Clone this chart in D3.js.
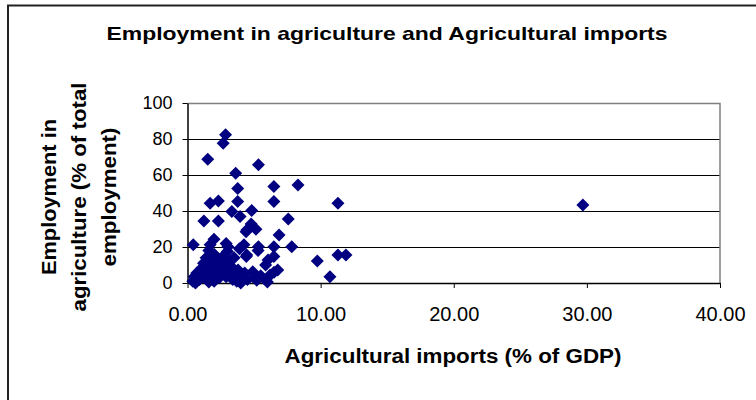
<!DOCTYPE html>
<html>
<head>
<meta charset="utf-8">
<script src="https://cdn.jsdelivr.net/npm/d3@7"></script>
<style>
  html, body { margin: 0; padding: 0; background: #ffffff; }
  #chart { width: 756px; height: 400px; }
</style>
</head>
<body>
<div id="chart"></div>
<script>
// ---------- data ----------
const importsPct = [
    2.86, 2.68, 1.52, 3.62, 5.33, 6.49, 8.30, 3.77, 6.49, 3.77,
    1.70, 2.32, 11.30, 29.70, 3.33, 4.82, 1.23, 2.32, 3.95, 7.57,
    4.46, 5.14, 4.78, 6.88, 0.43, 1.70, 1.99, 3.04, 4.24, 5.33,
    6.49, 7.83, 4.42, 6.49, 9.75, 11.30, 11.90, 10.70, 5.87, 6.78,
    4.40, 2.90, 1.60, 2.00, 3.00, 3.90, 4.45, 6.05, 5.30, 0.40,
    0.50, 0.70, 0.90, 1.00, 1.20, 1.30, 1.40, 1.50, 1.60, 1.70,
    1.80, 1.90, 2.10, 2.20, 2.30, 2.40, 2.50, 2.60, 2.70, 2.80,
    2.90, 3.00, 3.10, 3.20, 3.30, 3.40, 3.60, 3.70, 3.80, 4.00,
    4.10, 4.30, 4.50, 4.90, 5.00, 5.20, 5.50, 5.90, 6.20, 6.00,
    6.50, 1.10, 2.00, 0.60, 3.50
];
const employmentPct = [
    82.4, 77.7, 68.8, 61.0, 65.7, 53.6, 54.4, 52.5, 45.3, 45.3,
    44.3, 45.6, 44.3, 43.4, 39.7, 40.3, 34.5, 34.5, 36.9, 35.6,
    29.5, 29.9, 32.8, 26.7, 21.2, 21.2, 24.3, 20.2, 21.2, 20.2,
    20.2, 20.2, 14.7, 14.7, 12.2, 15.6, 15.6, 3.5, 10.0, 7.2,
    28.5, 22.0, 18.0, 16.0, 17.5, 19.0, 15.6, 12.8, 18.0, 1.0,
    3.5, 5.5, 2.0, 6.0, 11.0, 3.0, 14.0, 8.0, 0.5, 12.0,
    5.0, 2.0, 10.0, 7.0, 13.5, 3.0, 9.0, 5.5, 15.0, 11.0,
    3.5, 7.5, 12.5, 5.0, 9.0, 2.0, 6.0, 1.0, 7.2, 0.0,
    4.0, 5.5, 2.0, 6.3, 3.0, 1.5, 4.0, 2.0, 4.5, 0.5,
    6.0, 8.5, 1.0, 0.0, 14.0
];
const xTicks = [0, 10, 20, 30, 40];
const yTicks = [0, 20, 40, 60, 80, 100];
const titleText = "Employment in agriculture and Agricultural imports";
const xTitleText = "Agricultural imports (% of GDP)";
const yTitleLines = ["Employment in", "agriculture (% of total", "employment)"];

// ---------- layout ----------
const width = 756, height = 400;
const margin = { top: 103, left: 187.5, right: 36, bottom: 117 };
const innerWidth = width - margin.left - margin.right;
const innerHeight = height - margin.top - margin.bottom;
const fontFamily = "Arial, 'Liberation Sans', sans-serif";

const svg = d3.select("#chart")
    .append("svg")
    .attr("width", width)
    .attr("height", height)
    .attr("viewBox", `0 0 ${width} ${height}`);

// outer chart frame (only left and top edges are inside the picture)
svg.append("path")
    .attr("d", `M8,${height} L8,5.5 L${width},5.5`)
    .attr("fill", "none")
    .attr("stroke", "#222")
    .attr("stroke-width", 2);

// title
svg.append("text")
    .attr("x", 387)
    .attr("y", 40)
    .attr("text-anchor", "middle")
    .attr("textLength", 561)
    .attr("lengthAdjust", "spacingAndGlyphs")
    .style("font-family", fontFamily)
    .style("font-size", "19px")
    .style("font-weight", "bold")
    .text(titleText);

const chart = svg.append("g")
    .attr("transform", `translate(${margin.left},${margin.top})`);

// scales
const xScale = d3.scaleLinear().domain([0, 40]).range([0, innerWidth]);
const yScale = d3.scaleLinear().domain([0, 100]).range([innerHeight, 0]);

// gridlines
chart.selectAll(".grid")
    .data(yTicks.filter(t => t > 0 && t < 100))
    .enter()
    .append("line")
    .attr("class", "grid")
    .attr("x1", 0)
    .attr("x2", innerWidth)
    .attr("y1", d => Math.round(yScale(d)) + 0.5)
    .attr("y2", d => Math.round(yScale(d)) + 0.5)
    .attr("stroke", "#000")
    .attr("stroke-width", 1);

// plot-area border on top and right (grey)
chart.append("path")
    .attr("d", `M0,${yScale(100) + 0.5} L${innerWidth},${yScale(100) + 0.5} L${innerWidth},${innerHeight}`)
    .attr("fill", "none")
    .attr("stroke", "#808080")
    .attr("stroke-width", 1.5);

// axes
const xAxis = chart.append("g")
    .attr("transform", `translate(0,${innerHeight})`)
    .call(d3.axisBottom(xScale)
        .tickValues(xTicks)
        .tickSize(5)
        .tickSizeOuter(0)
        .tickPadding(19)
        .tickFormat(d3.format(".2f")));

const yAxis = chart.append("g")
    .call(d3.axisLeft(yScale)
        .tickValues(yTicks)
        .tickSize(5)
        .tickSizeOuter(0)
        .tickPadding(10));

[xAxis, yAxis].forEach(ax => {
    ax.select(".domain").attr("stroke", "#000").attr("stroke-width", 1.5);
    ax.selectAll(".tick line").attr("stroke", "#000").attr("stroke-width", 1);
    ax.selectAll(".tick text")
        .attr("fill", "#000")
        .style("font-family", fontFamily);
});
xAxis.selectAll(".tick text").style("font-size", "20px");
yAxis.selectAll(".tick text").style("font-size", "18px");

// markers (navy diamonds)
const points = importsPct.map((x, i) => ({ x: x, y: employmentPct[i] }));
const r = 6.5;
chart.selectAll(".pt")
    .data(points)
    .enter()
    .append("path")
    .attr("class", "pt")
    .attr("d", `M0,${-r} L${r},0 L0,${r} L${-r},0 Z`)
    .attr("transform", d => `translate(${xScale(d.x)},${yScale(d.y)})`)
    .attr("fill", "#000080");

// x axis title
svg.append("text")
    .attr("x", 453)
    .attr("y", 363)
    .attr("text-anchor", "middle")
    .attr("textLength", 337)
    .attr("lengthAdjust", "spacingAndGlyphs")
    .style("font-family", fontFamily)
    .style("font-size", "20px")
    .style("font-weight", "bold")
    .text(xTitleText);

// y axis title, three rotated lines
const yTitleLengths = [156, 229, 139];
const yTitle = svg.append("g")
    .attr("transform", "translate(0,197) rotate(-90)");
yTitle.selectAll("text")
    .data(yTitleLines)
    .enter()
    .append("text")
    .attr("x", 0)
    .attr("y", (d, i) => 56 + i * 30)
    .attr("text-anchor", "middle")
    .attr("textLength", (d, i) => yTitleLengths[i])
    .attr("lengthAdjust", "spacingAndGlyphs")
    .style("font-family", fontFamily)
    .style("font-size", "21px")
    .style("font-weight", "bold")
    .text(d => d);
</script>
</body>
</html>
